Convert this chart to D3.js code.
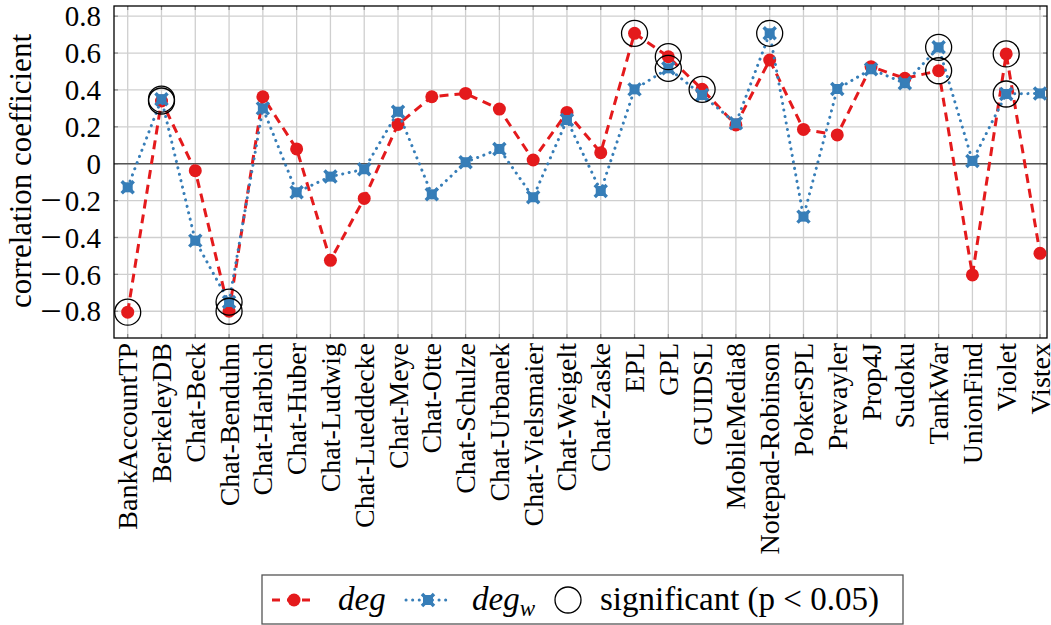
<!DOCTYPE html>
<html>
<head>
<meta charset="utf-8">
<script src="https://cdn.jsdelivr.net/npm/d3@7/dist/d3.min.js"></script>
<style>
  body { margin: 0; background: #fff; }
  svg text { font-family: "Liberation Serif", "DejaVu Serif", serif; fill: #000; }
</style>
</head>
<body>
<svg id="chart" width="1051" height="625"></svg>
<script>
var categories = ['BankAccountTP', 'BerkeleyDB', 'Chat-Beck', 'Chat-Benduhn', 'Chat-Harbich', 'Chat-Huber',
    'Chat-Ludwig', 'Chat-Lueddecke', 'Chat-Meye', 'Chat-Otte', 'Chat-Schulze', 'Chat-Urbanek',
    'Chat-Vielsmaier', 'Chat-Weigelt', 'Chat-Zaske', 'EPL', 'GPL', 'GUIDSL', 'MobileMedia8',
    'Notepad-Robinson', 'PokerSPL', 'Prevayler', 'Prop4J', 'Sudoku', 'TankWar', 'UnionFind', 'Violet', 'Vistex'];

var degValues = [-0.805, 0.34, -0.038, -0.80, 0.363, 0.08, -0.524, -0.188, 0.213, 0.363, 0.381, 0.296,
    0.02, 0.278, 0.06, 0.707, 0.58, 0.403, 0.21, 0.562, 0.186, 0.156, 0.526, 0.463, 0.504, -0.603, 0.595, -0.486];

var degWValues = [-0.128, 0.35, -0.417, -0.75, 0.30, -0.155, -0.07, -0.03, 0.282, -0.166, 0.008, 0.08,
    -0.182, 0.237, -0.148, 0.403, 0.517, 0.372, 0.219, 0.707, -0.287, 0.405, 0.512, 0.436, 0.631, 0.015, 0.378, 0.381];

// projects where the correlation is significant
var degSignificant  = ['BankAccountTP', 'BerkeleyDB', 'Chat-Benduhn', 'EPL', 'GPL', 'GUIDSL', 'TankWar', 'Violet'];
var degWSignificant = ['BerkeleyDB', 'Chat-Benduhn', 'GPL', 'Notepad-Robinson', 'TankWar', 'Violet'];

var yTicks = [-0.8, -0.6, -0.4, -0.2, 0, 0.2, 0.4, 0.6, 0.8];

var RED  = '#e41a1c';
var BLUE = '#377eb8';

var box = { left: 114, right: 1047, top: 6, bottom: 338 };

var svg = d3.select('#chart');

var x = d3.scalePoint()
    .domain(categories)
    .range([127.7, 1040]);

var y = d3.scaleLinear()
    .domain([-0.945, 0.855])
    .range([box.bottom, box.top]);

// grid
svg.append('g')
    .attr('class', 'grid-x')
    .selectAll('line')
    .data(categories)
    .enter().append('line')
    .attr('x1', d => x(d)).attr('x2', d => x(d))
    .attr('y1', box.top).attr('y2', box.bottom)
    .attr('stroke', '#cfcfcf')
    .attr('stroke-width', 1.3)
;

svg.append('g')
    .attr('class', 'grid-y')
    .selectAll('line')
    .data(yTicks)
    .enter().append('line')
    .attr('x1', box.left).attr('x2', box.right)
    .attr('y1', d => y(d)).attr('y2', d => y(d))
    .attr('stroke', '#cfcfcf')
    .attr('stroke-width', 1.3)
;

// small inner ticks on all four sides
var tickLen = 4;
var ticks = svg.append('g').attr('stroke', '#888').attr('stroke-width', 1.2);
categories.forEach(function (c) {
    ticks.append('line').attr('x1', x(c)).attr('x2', x(c)).attr('y1', box.bottom).attr('y2', box.bottom - tickLen);
    ticks.append('line').attr('x1', x(c)).attr('x2', x(c)).attr('y1', box.top).attr('y2', box.top + tickLen);
});
yTicks.forEach(function (t) {
    ticks.append('line').attr('x1', box.left).attr('x2', box.left + tickLen).attr('y1', y(t)).attr('y2', y(t));
    ticks.append('line').attr('x1', box.right).attr('x2', box.right - tickLen).attr('y1', y(t)).attr('y2', y(t));
});

// zero line
svg.append('line')
    .attr('x1', box.left).attr('x2', box.right)
    .attr('y1', y(0)).attr('y2', y(0))
    .attr('stroke', '#555')
    .attr('stroke-width', 1.6)
;

// frame
svg.append('rect')
    .attr('x', box.left).attr('y', box.top)
    .attr('width', box.right - box.left).attr('height', box.bottom - box.top)
    .attr('fill', 'none')
    .attr('stroke', '#000')
    .attr('stroke-width', 1.3)
;

// y tick labels; the minus is a separate, wider glyph like TeX's math minus
var tickSize = 29;
var yLabels = svg.append('g');
yTicks.forEach(function (v) {
    var base = y(v) + 0.35 * tickSize;
    var num = yLabels.append('text')
        .attr('x', 101)
        .attr('y', base)
        .attr('text-anchor', 'end')
        .style('font-size', tickSize + 'px')
        .text(v === 0 ? '0' : Math.abs(v).toFixed(1));
    if (v < 0) {
        var w = num.node().getComputedTextLength();
        yLabels.append('text')
            .attr('x', 101 - w - 3)
            .attr('y', base + 2.5)
            .attr('text-anchor', 'end')
            .style('font-size', '38px')
            .text('\u2212');
    }
});

// y title
svg.append('text')
    .attr('transform', 'translate(31,' + ((box.top + box.bottom) / 2 - 1) + ') rotate(-90)')
    .attr('text-anchor', 'middle')
    .style('font-size', '31px')
    .text('correlation coefficient')
;

// x labels
svg.append('g')
    .selectAll('text')
    .data(categories)
    .enter().append('text')
    .attr('transform', d => 'translate(' + x(d) + ',' + (box.bottom + 5) + ') rotate(-90)')
    .attr('dy', '0.34em')
    .attr('text-anchor', 'end')
    .style('font-size', '28px')
    .text(d => d)
;

var pts = function (values) {
    return categories.map((c, i) => ({ name: c, v: values[i] }));
};

var line = d3.line().x(d => x(d.name)).y(d => y(d.v));

// series deg
svg.append('path')
    .datum(pts(degValues))
    .attr('d', line)
    .attr('fill', 'none')
    .attr('stroke', RED)
    .attr('stroke-width', 3)
    .attr('stroke-dasharray', '9,6')
;

svg.append('g')
    .selectAll('circle')
    .data(pts(degValues))
    .enter().append('circle')
    .attr('cx', d => x(d.name))
    .attr('cy', d => y(d.v))
    .attr('r', 6.5)
    .attr('fill', RED)
;

// series deg_w
svg.append('path')
    .datum(pts(degWValues))
    .attr('d', line)
    .attr('fill', 'none')
    .attr('stroke', BLUE)
    .attr('stroke-width', 3)
    .attr('stroke-linecap', 'round')
    .attr('stroke-dasharray', '0.1,6.5')
;

var drawCross = function (sel) {
    sel.append('rect')
        .attr('x', -5).attr('y', -5)
        .attr('width', 10).attr('height', 10)
        .attr('fill', BLUE);
    sel.append('path')
        .attr('d', 'M-6,-6L6,6M-6,6L6,-6')
        .attr('stroke', BLUE)
        .attr('stroke-width', 3.5);
};

svg.append('g')
    .selectAll('g')
    .data(pts(degWValues))
    .enter().append('g')
    .attr('transform', d => 'translate(' + x(d.name) + ',' + y(d.v) + ')')
    .each(function () { drawCross(d3.select(this)); })
;

// significance rings
var sig = []
    .concat(pts(degValues).filter(d => degSignificant.indexOf(d.name) >= 0))
    .concat(pts(degWValues).filter(d => degWSignificant.indexOf(d.name) >= 0));

svg.append('g')
    .selectAll('circle')
    .data(sig)
    .enter().append('circle')
    .attr('cx', d => x(d.name))
    .attr('cy', d => y(d.v))
    .attr('r', 13)
    .attr('fill', 'none')
    .attr('stroke', '#000')
    .attr('stroke-width', 1.3)
;

// legend
var legend = svg.append('g').attr('transform', 'translate(262,575)');

legend.append('rect')
    .attr('width', 641).attr('height', 49)
    .attr('fill', '#fff')
    .attr('stroke', '#555')
    .attr('stroke-width', 1.3)
;

var ly = 25;

legend.append('line')
    .attr('x1', 10).attr('x2', 50).attr('y1', ly).attr('y2', ly)
    .attr('stroke', RED).attr('stroke-width', 3).attr('stroke-dasharray', '8,7');
legend.append('circle').attr('cx', 32).attr('cy', ly).attr('r', 6.5).attr('fill', RED);
legend.append('text')
    .attr('x', 76).attr('y', ly).attr('dy', '0.3em')
    .style('font-size', '33px').style('font-style', 'italic')
    .text('deg');

legend.append('line')
    .attr('x1', 144).attr('x2', 190).attr('y1', ly).attr('y2', ly)
    .attr('stroke', BLUE).attr('stroke-width', 3)
    .attr('stroke-linecap', 'round').attr('stroke-dasharray', '0.1,6.5');
legend.append('g')
    .attr('transform', 'translate(166,' + ly + ')')
    .call(drawCross);

var degw = legend.append('text')
    .attr('x', 210).attr('y', ly).attr('dy', '0.3em')
    .style('font-size', '33px').style('font-style', 'italic');
degw.append('tspan').text('deg');
degw.append('tspan').attr('dy', '6').style('font-size', '23px').text('w');

legend.append('circle')
    .attr('cx', 306).attr('cy', ly).attr('r', 13)
    .attr('fill', 'none').attr('stroke', '#000').attr('stroke-width', 1.3);

legend.append('text')
    .attr('x', 338).attr('y', ly).attr('dy', '0.3em')
    .style('font-size', '33px')
    .text('significant (p < 0.05)');
</script>
</body>
</html>
